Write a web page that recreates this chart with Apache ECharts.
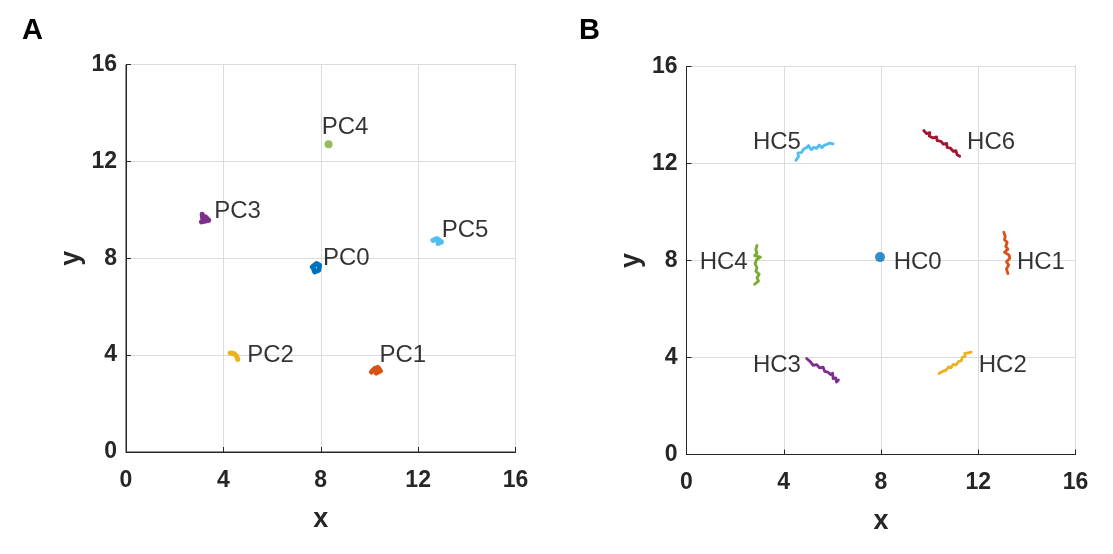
<!DOCTYPE html>
<html>
<head>
<meta charset="utf-8">
<script src="https://cdn.jsdelivr.net/npm/echarts@6/dist/echarts.min.js"></script>
<style>
  html, body { margin: 0; padding: 0; background: #fff; }
  #chart { width: 1113px; height: 554px; }
</style>
</head>
<body>
<div id="chart"></div>
<script>
// axis ticks, shared by both panels
const tickValues = [0, 4, 8, 12, 16];

// panel A: parallel centres (small blobs)
const pcNames = ['PC0', 'PC1', 'PC2', 'PC3', 'PC4', 'PC5'];
const pc0 = [[7.65, 7.64], [7.82, 7.78], [7.95, 7.71], [7.92, 7.51], [7.75, 7.44], [7.70, 7.58]];
const pc1 = [[10.08, 3.30], [10.21, 3.44], [10.35, 3.49], [10.45, 3.35], [10.28, 3.26]];
const pc2 = [[4.28, 4.09], [4.45, 4.06], [4.55, 3.95], [4.59, 3.82]];
const pc3 = [[3.13, 9.82], [3.15, 9.64], [3.26, 9.71], [3.40, 9.57], [3.10, 9.50]];
const pc4 = [[8.32, 12.71]];
const pc5 = [[12.61, 8.74], [12.78, 8.81], [12.96, 8.67], [12.82, 8.61]];
const pcLabelX = [8.07, 10.39, 4.96, 3.60, 8.02, 12.95];
const pcLabelY = [7.99, 4.00, 4.00, 9.92, 13.39, 9.16];

// panel B: head centres (wandering traces)
const hcNames = ['HC0', 'HC1', 'HC2', 'HC3', 'HC4', 'HC5', 'HC6'];
const hc0 = [[7.96, 8.14]];
const hc1 = [[13.05, 9.17], [13.11, 8.99], [13.08, 8.86], [13.19, 8.75], [13.13, 8.58], [13.22, 8.47], [13.08, 8.34],
             [13.27, 8.22], [13.30, 8.09], [13.16, 7.95], [13.25, 7.81], [13.16, 7.65], [13.22, 7.46]];
const hc2 = [[10.39, 3.34], [10.56, 3.44], [10.67, 3.47], [10.78, 3.61], [10.88, 3.58], [10.97, 3.72], [11.08, 3.69],
             [11.19, 3.83], [11.30, 3.86], [11.35, 4.02], [11.46, 4.05], [11.44, 4.16], [11.57, 4.19], [11.71, 4.22]];
const hc3 = [[4.94, 3.96], [5.10, 3.82], [5.21, 3.68], [5.35, 3.71], [5.48, 3.57], [5.62, 3.60], [5.68, 3.43],
             [5.81, 3.40], [5.92, 3.30], [6.01, 3.35], [6.03, 3.13], [6.14, 3.16], [6.17, 2.99], [6.25, 3.07]];
const hc4 = [[2.90, 8.62], [2.85, 8.45], [2.90, 8.31], [2.80, 8.20], [3.04, 8.14], [2.88, 8.03], [2.82, 7.87],
             [2.90, 7.70], [2.85, 7.56], [2.99, 7.43], [2.90, 7.29], [2.96, 7.15], [2.80, 7.02]];
const hc5 = [[4.50, 12.13], [4.61, 12.29], [4.58, 12.43], [4.74, 12.46], [4.83, 12.61], [4.94, 12.65], [5.02, 12.74],
             [5.13, 12.57], [5.24, 12.67], [5.35, 12.62], [5.46, 12.76], [5.57, 12.65], [5.68, 12.76], [5.78, 12.79],
             [5.89, 12.84], [6.03, 12.81]];
const hc6 = [[9.76, 13.36], [9.87, 13.23], [10.01, 13.27], [9.98, 13.13], [10.14, 13.05], [10.28, 13.10], [10.31, 12.94],
             [10.47, 12.91], [10.56, 12.80], [10.70, 12.83], [10.72, 12.66], [10.86, 12.63], [10.97, 12.50], [11.08, 12.53],
             [11.13, 12.36], [11.24, 12.30]];
const hcLabelX = [8.50, 13.57, 12.00, 2.71, 0.52, 2.71, 11.52];
const hcLabelY = [7.91, 7.91, 3.68, 3.68, 7.91, 12.88, 12.88];

// MATLAB default line colours
const colors = ['#0072BD', '#D95319', '#EDB120', '#7E2F8E', '#77AC30', '#4DBEEE', '#A2142F'];

const FONT = 'Liberation Sans, Arial, sans-serif';
const AXIS_COLOR = '#262626';

function makeAxis(idx, isX) {
    return {
        type: 'value',
        gridIndex: idx,
        min: tickValues[0],
        max: tickValues[tickValues.length - 1],
        interval: tickValues[1] - tickValues[0],
        name: isX ? 'x' : 'y',
        nameLocation: 'middle',
        nameGap: isX ? 54 : 41,
        nameTextStyle: {fontFamily: FONT, fontSize: 27, fontWeight: 'bold', color: AXIS_COLOR},
        axisLine: {show: true, onZero: false, lineStyle: {color: AXIS_COLOR, width: 1}},
        axisTick: {show: true, inside: true, length: 5, lineStyle: {color: AXIS_COLOR}},
        axisLabel: {
            fontFamily: FONT, fontSize: 23, fontWeight: 'bold', color: AXIS_COLOR,
            margin: isX ? 17 : 9,
            padding: isX ? 0 : [4, 0, 0, 0]
        },
        splitLine: {show: true, lineStyle: {color: '#dcdcdc', width: 1}}
    };
}

function traceSeries(data, color, panel, width) {
    if (data.length === 1) {
        return {
            type: 'scatter', xAxisIndex: panel, yAxisIndex: panel,
            data: data, symbolSize: width + 3, itemStyle: {color: color}, silent: true
        };
    }
    return {
        type: 'line', xAxisIndex: panel, yAxisIndex: panel,
        data: data, showSymbol: false, silent: true,
        lineStyle: {color: color, width: width, cap: 'round', join: 'round'}
    };
}

function labelSeries(names, xs, ys, panel) {
    return {
        type: 'scatter', xAxisIndex: panel, yAxisIndex: panel,
        symbolSize: 1, itemStyle: {color: 'rgba(0,0,0,0)'}, silent: true, z: 5,
        data: names.map((n, i) => ({name: n, value: [xs[i], ys[i]]})),
        label: {
            show: true, position: 'right', distance: 0,
            formatter: p => p.name,
            fontFamily: FONT, fontSize: 24, color: '#000'
        }
    };
}

const pcTraces = [pc0, pc1, pc2, pc3, pc4, pc5];
const hcTraces = [hc0, hc1, hc2, hc3, hc4, hc5, hc6];

let series = [];
pcTraces.forEach((d, i) => series.push(traceSeries(d, colors[i], 0, 5)));
hcTraces.forEach((d, i) => series.push(traceSeries(d, colors[i], 1, i === 0 ? 7 : 2.8)));
series.push(labelSeries(pcNames, pcLabelX, pcLabelY, 0));
series.push(labelSeries(hcNames, hcLabelX, hcLabelY, 1));

const option = {
    animation: false,
    backgroundColor: '#fff',
    title: [
        {text: 'A', left: 22, top: 16, padding: 0, textStyle: {fontFamily: FONT, fontSize: 29, fontWeight: 'bold', color: '#000'}},
        {text: 'B', left: 579, top: 16, padding: 0, textStyle: {fontFamily: FONT, fontSize: 29, fontWeight: 'bold', color: '#000'}}
    ],
    grid: [
        {left: 126, top: 64.5, width: 389.5, height: 387.5, show: true, borderColor: AXIS_COLOR, borderWidth: 1, backgroundColor: '#fff'},
        {left: 686.5, top: 66.5, width: 389, height: 388, show: true, borderColor: AXIS_COLOR, borderWidth: 1, backgroundColor: '#fff'}
    ],
    xAxis: [makeAxis(0, true), makeAxis(1, true)],
    yAxis: [makeAxis(0, false), makeAxis(1, false)],
    series: series
};

const myChart = echarts.init(document.getElementById('chart'));
myChart.setOption(option);
</script>
</body>
</html>
